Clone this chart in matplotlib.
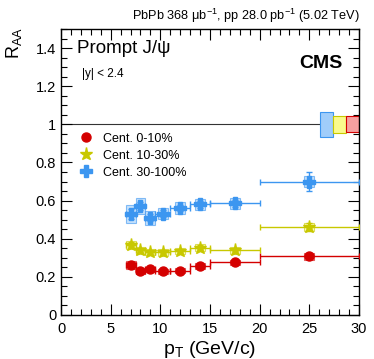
import numpy as np
import matplotlib.pyplot as plt
from matplotlib.patches import Rectangle

plt.rcParams['font.family'] = ['Liberation Sans', 'DejaVu Sans']
plt.rcParams['mathtext.fontset'] = 'custom'
plt.rcParams['mathtext.rm'] = 'Liberation Sans'
plt.rcParams['mathtext.it'] = 'Liberation Sans:italic'

# bins in pT
pt = [7, 8, 9, 10.25, 12, 14, 17.5, 25]
pt_lo = [6.5, 7.5, 8.5, 9.5, 11, 13, 15, 20]
pt_hi = [7.5, 8.5, 9.5, 11, 13, 15, 20, 30]

# R_AA values per centrality
raa_0_10 = [0.262, 0.232, 0.239, 0.230, 0.232, 0.257, 0.276, 0.307]
raa_10_30 = [0.366, 0.340, 0.330, 0.328, 0.337, 0.354, 0.339, 0.462]
raa_30_100 = [0.529, 0.571, 0.511, 0.532, 0.562, 0.580, 0.585, 0.700]

stat_0_10 = [0.012, 0.010, 0.010, 0.009, 0.009, 0.010, 0.010, 0.015]
stat_10_30 = [0.015, 0.012, 0.012, 0.011, 0.011, 0.012, 0.012, 0.022]
stat_30_100 = [0.025, 0.022, 0.020, 0.018, 0.017, 0.018, 0.018, 0.050]

syst_0_10 = [0.020, 0.015, 0.014, 0.013, 0.013, 0.014, 0.014, 0.016]
syst_10_30 = [0.022, 0.018, 0.016, 0.016, 0.016, 0.018, 0.017, 0.020]
syst_30_100 = [0.047, 0.042, 0.037, 0.031, 0.031, 0.030, 0.029, 0.030]

# global uncertainties drawn at R_AA = 1
glob_unc = [0.065, 0.045, 0.042]  # 30-100, 10-30, 0-10

labels = ['Cent. 0-10%', 'Cent. 10-30%', 'Cent. 30-100%']
colors = ['#d40000', '#c8c800', '#3c96f0']
fills = ['#f5a0a0', '#fafa8c', '#a0cdfa']
markers = ['o', '*', 'P']
msizes = [6.5, 9.5, 8.5]

fig = plt.figure(figsize=(3.74, 3.59), dpi=100)
ax = fig.add_axes([61/374, 1-315/359, (359-61)/374, (315-29)/359])

ax.axhline(1.0, color='#333333', lw=0.8, zorder=1)

series = [(raa_0_10, stat_0_10, syst_0_10),
          (raa_10_30, stat_10_30, syst_10_30),
          (raa_30_100, stat_30_100, syst_30_100)]

x = np.array(pt)
xerr = [x - np.array(pt_lo), np.array(pt_hi) - x]
for i, (vals, stat, syst) in enumerate(series):
    c = colors[i]
    for xc, v, s in zip(pt, vals, syst):
        ax.add_patch(Rectangle((xc - 0.5, v - s), 1.0, 2 * s,
                               facecolor=fills[i], edgecolor=c, lw=0.8,
                               alpha=0.6, zorder=2))
    ax.errorbar(x, vals, xerr=xerr, yerr=stat, fmt='none', ecolor=c,
                elinewidth=1.0, capsize=2.5, capthick=1.0, zorder=3)
    ax.plot(x, vals, ls='none', marker=markers[i], ms=msizes[i], color=c,
            mec=c, zorder=4, label=labels[i])

# global boxes
gx = [26.1, 27.4, 28.7]
for j, (g, k) in enumerate(zip(glob_unc, [2, 1, 0])):
    ax.add_patch(Rectangle((gx[j], 1 - g), 1.3, 2 * g, facecolor=fills[k],
                           edgecolor=colors[k], lw=0.8, zorder=2))

ax.set_xlim(0, 30)
ax.set_ylim(0, 1.5)
ax.set_xticks(np.arange(0, 31, 5))
ax.set_xticks(np.arange(0, 31, 1), minor=True)
ax.set_yticks(np.arange(0, 1.41, 0.2))
ax.set_yticklabels(['0', '0.2', '0.4', '0.6', '0.8', '1', '1.2', '1.4'])
ax.set_yticks(np.arange(0, 1.51, 0.05), minor=True)
ax.tick_params(which='both', direction='in', top=True, right=True,
               labelsize=10.5, width=0.8)
ax.tick_params(which='major', length=8)
ax.tick_params(which='minor', length=4)
ax.tick_params(axis='x', pad=5)
for sp in ax.spines.values():
    sp.set_linewidth(1.0)

ax.set_xlabel(r'p$_{\mathrm{T}}$ (GeV/c)', fontsize=14, labelpad=0)
ax.xaxis.set_label_coords(0.5, -0.085)
fig.text(0.012, 0.925, r'R$_{\mathrm{AA}}$', rotation=90, fontsize=13,
         ha='left', va='top')

fig.text(0.962, 0.955, r'PbPb 368 $\mathrm{\mu}$b$^{-1}$, pp 28.0 pb$^{-1}$ (5.02 TeV)',
         fontsize=9.2, ha='right', va='center')
ax.text(0.055, 0.96, 'Prompt J/ψ', transform=ax.transAxes,
        fontsize=13.5, ha='left', va='top')
ax.text(0.07, 0.865, r'|y| < 2.4', transform=ax.transAxes,
        fontsize=8.5, ha='left', va='top')
ax.text(0.945, 0.91, 'CMS', transform=ax.transAxes, fontsize=14,
        fontweight='bold', ha='right', va='top')

ax.legend(loc='upper left', bbox_to_anchor=(0.035, 0.655), frameon=False,
          fontsize=9, handletextpad=0.6, labelspacing=0.4,
          borderaxespad=0, handlelength=1.5)

fig.savefig('out.png', dpi=100)
